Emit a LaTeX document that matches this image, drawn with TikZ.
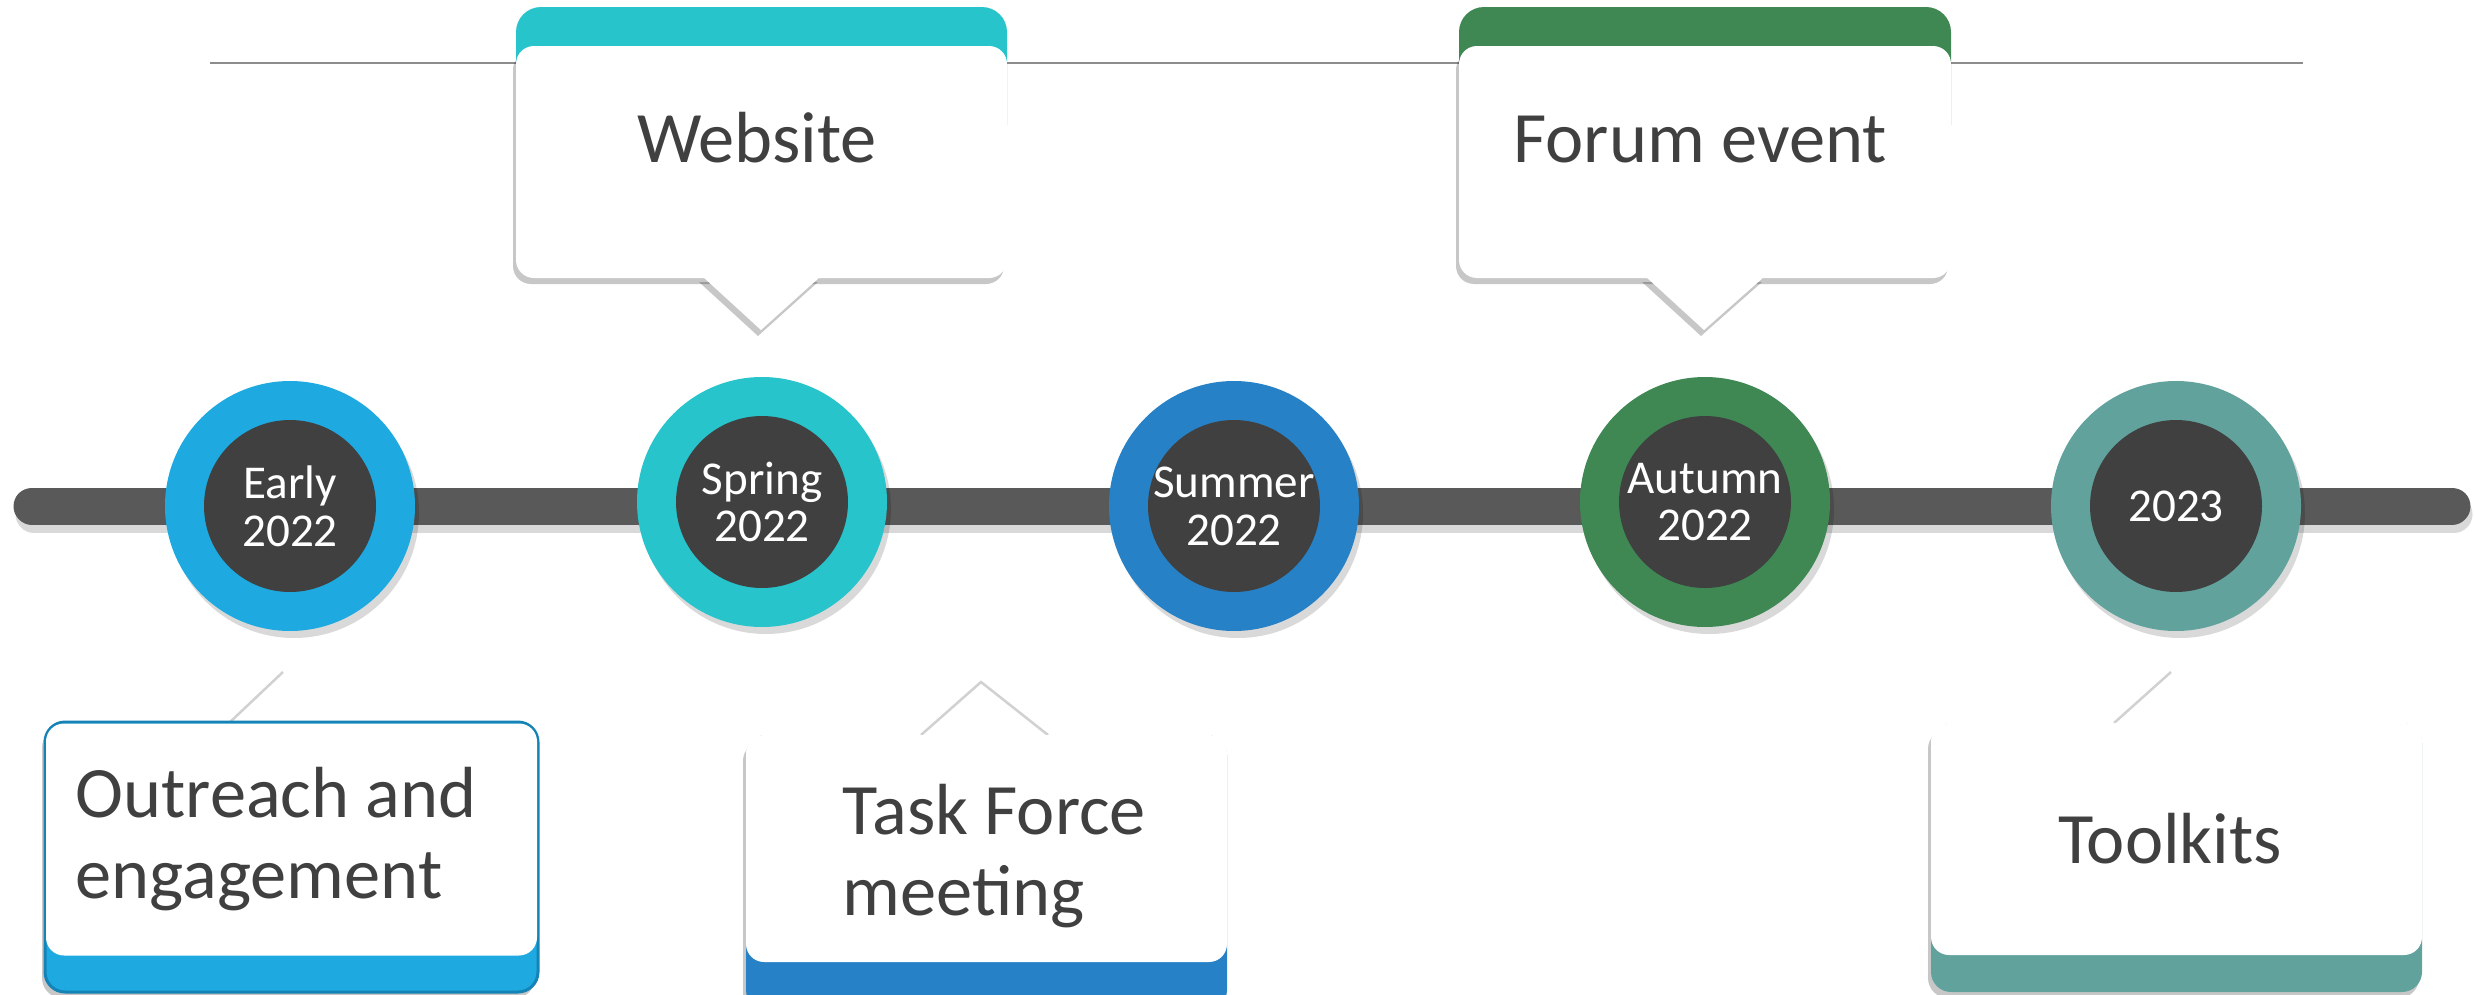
\documentclass[tikz,border=0pt]{standalone}
\usepackage{fontspec}
\setmainfont{Carlito}
\usetikzlibrary{calc}
\usetikzlibrary{shadows}
\usetikzlibrary{positioning}

\definecolor{cEarly}{HTML}{1EAAE1}
\definecolor{cEarlyEdge}{HTML}{1583B5}
\definecolor{cSpring}{HTML}{28C4CB}
\definecolor{cSummer}{HTML}{2781C6}
\definecolor{cAutumn}{HTML}{3F8854}
\definecolor{cLater}{HTML}{62A29D}
\definecolor{cDark}{HTML}{404040}
\definecolor{cBar}{HTML}{595959}
\definecolor{cRule}{HTML}{8C8C8C}

\tikzset{
  ring/.style={circle, fill=#1, minimum size=25mm, inner sep=0pt, text=white, align=center,
    font=\fontsize{13.4}{13.6}\selectfont,
    path picture={\fill[cDark] (path picture bounding box.center) circle (8.6mm);},
    drop shadow={shadow xshift=.4mm, shadow yshift=-.7mm, opacity=.15, fill=black}},
  card/.style={rectangle, fill=white, rounded corners=1.8mm, minimum width=#1,
    minimum height=23.2mm, inner sep=0pt},
  card/.default=49.1mm,
  soft/.style={drop shadow={shadow xshift=-.3mm, shadow yshift=-.6mm, opacity=.22, fill=black}},
  cardtext/.style={text=cDark, inner sep=0pt, font=\fontsize{20.6}{23}\selectfont},
  tipedge/.style={draw=black!18, line width=.25mm},
  rule/.style={draw=cRule, line width=.2mm}
}

\begin{document}
\begin{tikzpicture}[x=0.1mm, y=-0.1mm]
  \useasboundingbox (0,0) rectangle (2474,995);
  % thin rule behind the top cards
  \draw[rule] (210,63) -- (2303,63);
  % timeline bar
  \draw[line width=3.7mm, line cap=round, black, opacity=.15] (34,514) -- (2454,514);
  \draw[line width=3.7mm, line cap=round, cBar] (32,506) -- (2452,506);

  % stops
  \node[ring=cEarly] (early) at (290,506) {Early\\2022};
  \node[ring=cSpring] (spring) at (762,502) {Spring\\2022};
  \node[ring=cSummer] (summer) at (1234,506) {Summer\\2022};
  \node[ring=cAutumn] (autumn) at (1705,502) {Autumn\\2022};
  \node[ring=cLater] (later) at (2176,506) {2023};

  % top cards
  \fill[cSpring, rounded corners=2.5mm] (516,7) rectangle (1007,150);
  \node[card, soft] (web) at (761.5,162) {};
  \fill[white, soft] (702,276) -- (761,330) -- (821,276) -- cycle;
  \node[cardtext, anchor=base] (webtxt) at (757,162) {Website};

  \fill[cAutumn, rounded corners=2.5mm] (1459,7) rectangle (1951,150);
  \node[card=49.2mm, soft] (forum) at (1705,162) {};
  \fill[white, soft] (1645,276) -- (1704,330) -- (1765,276) -- cycle;
  \node[cardtext, anchor=base] (forumtxt) at (1700,162) {Forum event};

  % bottom cards
  \fill[white] (229,725) -- (283,672) -- (345,725) -- cycle;
  \draw[tipedge] (229,723) -- (283,672);
  \fill[cEarly, draw=cEarlyEdge, line width=.3mm, rounded corners=2mm, soft] (45,722) rectangle (538,992);
  \node[card=49.1mm] (outreach) at (291.5,839.5) {};
  \node[cardtext, anchor=base west, align=left] (outreachtxt) at (75,898) {Outreach and\\engagement};

  \fill[white] (921,737) -- (981,682) -- (1048,737) -- cycle;
  \draw[tipedge] (921,735) -- (981,682) -- (1048,735);
  \fill[cSummer, rounded corners=2mm, soft] (746,735) rectangle (1227,1010);
  \node[card=48.1mm, minimum height=22.7mm] (task) at (986.5,848.5) {};
  \node[cardtext, anchor=base west, align=left] (tasktxt) at (842,915) {Task Force\\meeting};

  \fill[white] (2114,725) -- (2171,672) -- (2236,725) -- cycle;
  \draw[tipedge] (2114,723) -- (2171,672);
  \fill[cLater, rounded corners=2mm, soft] (1931,723) rectangle (2422,992);
  \node[card=49.1mm] (tools) at (2176.5,839) {};
  \node[cardtext, anchor=base] (toolstxt) at (2170,863) {Toolkits};
\end{tikzpicture}
\end{document}
